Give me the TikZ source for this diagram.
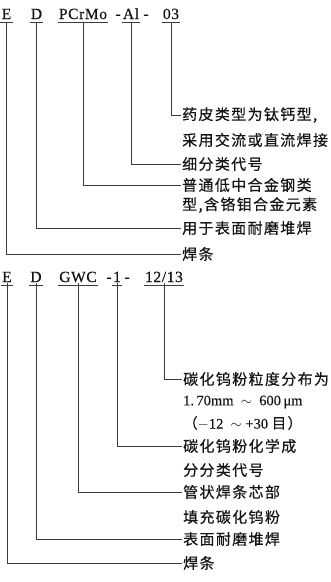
\documentclass[tikz,border=0pt]{standalone}
\usepackage{fontspec}
\setmainfont{Liberation Serif}
\newfontfamily\cjk[LetterSpace=9, FakeBold=0.4]{Noto Sans CJK SC}
\newfontfamily\codefont[LetterSpace=4, FakeBold=0.5]{Liberation Serif}
\newfontfamily\numfont[FakeBold=0.3]{Liberation Serif}
\usetikzlibrary{positioning}
\definecolor{ink}{RGB}{20,20,20}
\definecolor{wire}{RGB}{60,60,60}

\begin{document}
\begin{tikzpicture}[x=1pt, y=-1pt,
  code/.style={font=\codefont\fontsize{15.5}{15}\selectfont, text=ink, inner xsep=1.2pt, inner ysep=3pt, text height=10pt, text depth=0pt},
  desc/.style={font=\cjk\fontsize{15}{15}\selectfont, text=ink, anchor=west, inner xsep=1pt, inner ysep=0pt},
  num/.style={desc, font=\numfont\fontsize{14.5}{15}\selectfont},
  link/.style={draw=wire, line width=0.8pt}]
  \useasboundingbox (0,0) rectangle (331,582);
  % first code: ED PCrMo-Al-03
  \node[code] (tE) at (6.5,14) {E};
  \node[code] (tD) at (36.5,14) {D};
  \node[code] (tP) at (83,14) {PCrMo};
  \node[code] (tH1) at (118,14) {-};
  \node[code] (tA) at (131,14) {Al};
  \node[code] (tH2) at (146,14) {-};
  \node[code] (t03) at (171,14) {03};
  \foreach \n in {tE,tD,tP,tA,t03}
    \draw[link] (\n.south west) -- (\n.south east);
  \node[desc] (d03) at (181,115) {药皮类型为钛钙型,};
  \node[desc] (d03b) at (181,140) {采用交流或直流焊接};
  \node[desc] (dA) at (181,164) {细分类代号};
  \node[desc] (dP) at (181,185) {普通低中合金钢类};
  \node[desc] (dPb) at (181,205) {型,含铬钼合金元素};
  \node[desc] (dD) at (181,228) {用于表面耐磨堆焊};
  \node[desc] (dE) at (181,254) {焊条};
  \draw[link] (t03.south) |- (d03.west);
  \draw[link] (tA.south) |- (dA.west);
  \draw[link] (tP.south) |- (dP.west);
  \draw[link] (tD.south) |- (dD.west);
  \draw[link] (tE.south) |- (dE.west);
  % second code: ED GWC-1-12/13
  \node[code] (bE) at (7,277) {E};
  \node[code] (bD) at (36,277) {D};
  \node[code] (bG) at (78,277) {GWC};
  \node[code] (bH1) at (109,277) {-};
  \node[code] (b1) at (117,277) {1};
  \node[code] (bH2) at (127,277) {-};
  \node[code] (b12) at (164,277) {12/13};
  \foreach \n in {bE,bD,bG,b1,b12}
    \draw[link] (\n.south west) -- (\n.south east);
  \node[desc] (g12) at (182,379) {碳化钨粉粒度分布为};
  \node[num] (g12b) at (182,402) {1.\,70mm\enspace$\sim$\enspace600\,μm};
  \node[num] (g12c) at (182,423) {{\cjk （}$-$12\enspace$\sim$ +30 {\cjk 目）}};
  \node[desc] (g1) at (182,446) {碳化钨粉化学成};
  \node[desc] (g1b) at (182,470) {分分类代号};
  \node[desc] (gG) at (182,492) {管状焊条芯部};
  \node[desc] (gGb) at (182,517) {填充碳化钨粉};
  \node[desc] (gD) at (182,539) {表面耐磨堆焊};
  \node[desc] (gE) at (182,563) {焊条};
  \draw[link] ([yshift=2pt]b12.south) |- (g12.west);
  \draw[link] ([yshift=2pt]b1.south) |- (g1.west);
  \draw[link] ([yshift=2pt]bG.south) |- (gG.west);
  \draw[link] ([yshift=2pt]bD.south) |- (gD.west);
  \draw[link] ([yshift=2pt]bE.south) |- (gE.west);
\end{tikzpicture}
\end{document}
